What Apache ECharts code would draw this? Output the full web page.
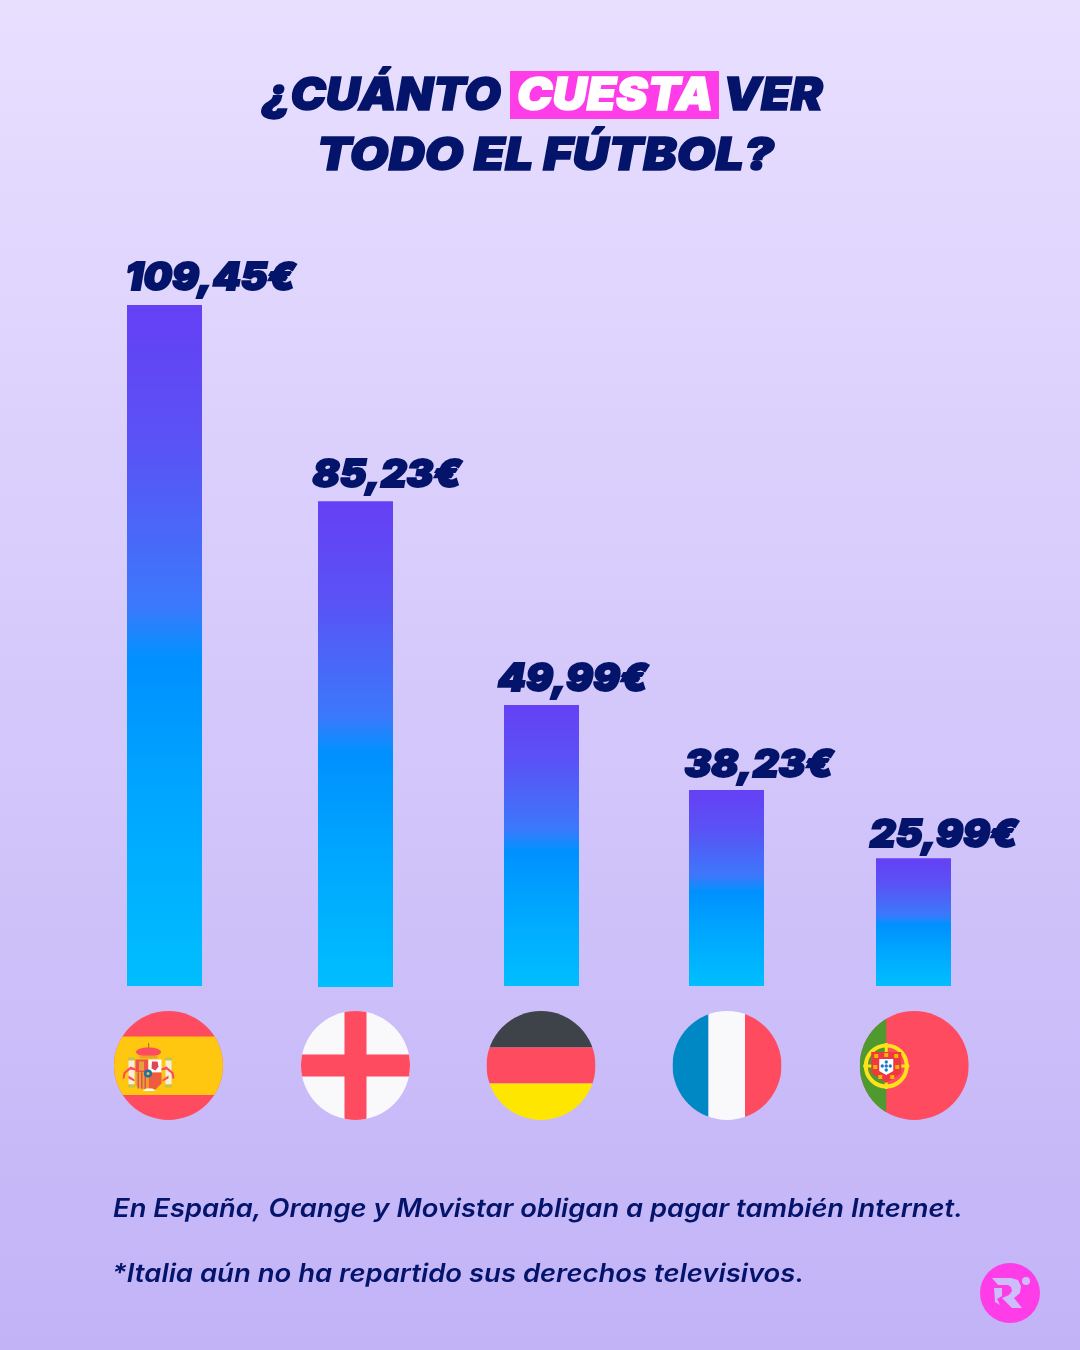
<!DOCTYPE html>
<html><head><meta charset="utf-8">
<style>html,body{margin:0;padding:0;background:#d5c9fb}#c{width:1080px;height:1350px}</style>
<script src="https://cdn.jsdelivr.net/npm/echarts@6/dist/echarts.min.js"></script>
</head><body><div id="c"></div>
<script>
const countries = ['España','Inglaterra','Alemania','Francia','Portugal'];
const priceLabels = ['109,45€','85,23€','49,99€','38,23€','25,99€'];
// Bar lengths as drawn in the source, on the Spain bar's scale: the source's bars are not proportional to their printed prices.
const drawnBarValues = [109.45, 77.9, 45.16, 31.5, 20.52];
const titleLine1 = ['¿CUÁNTO','CUESTA','VER'];
const titleLine2 = 'TODO EL FÚTBOL?';
const notes = ['En España, Orange y Movistar obligan a pagar también Internet.','*Italia aún no ha repartido sus derechos televisivos.'];

const INK='#04146A', RED='#FF4B5F', WHITE='#F9F9FB', YEL='#FFE600';
const barNudge=[0,3.75,2.5,0.25,0], flagNudge=[4,3.75,2,0.75,0.75];
const labelNudge=[46,35.25,34,32.75,30.5], labelLift=[45,45,44,43,42];
const R=54.5;
const FONT='Inter';

const rect=(x,y,w,h,fill)=>({type:'rect',shape:{x,y,width:w,height:h},style:{fill}});
const circ=(cx,cy,r,fill,extra)=>({type:'circle',shape:{cx,cy,r},style:Object.assign({fill},extra||{})});
const poly=(points,fill)=>({type:'polygon',shape:{points},style:{fill}});
function spainCrest(){
  const c=[];
  [-40,-3].forEach(x=>{ c.push(rect(x,-6,6,25,'#F4F0DC')); c.push(rect(x-.5,-8,7,3,'#C9C24A')); c.push(rect(x-.5,19,7,3,'#C9C24A')); });
  c.push({type:'ellipse',shape:{cx:-20,cy:-13.5,rx:12.5,ry:4.5},style:{fill:RED}});
  c.push(rect(-20.5,-22.5,1.2,6,'#B9772C'));
  c.push(rect(-29,-10,18,3,'#E8A32A'));
  c.push(rect(-33,-6,12.5,13,'#F2504F'));
  c.push(rect(-29.5,-4,5,9,'#E2A33A'));
  c.push(rect(-20,-6,13,13,'#FFFFFF'));
  c.push(poly([[-16.5,-4],[-11,-4],[-10,1],[-13,5],[-17,3]],'#E0465A'));
  c.push(poly([[-33,7],[-20.5,7],[-20.5,23],[-27,24],[-33,20]],'#E8A035'));
  [-31,-27.5,-24].forEach(x=>c.push(rect(x,7,1.5,16,'#E2504C')));
  c.push(poly([[-20,7],[-7,7],[-7,18],[-13,24],[-20,23]],'#EE5B3F'));
  c.push(poly([[-22,23],[-16,23],[-13,25.5],[-26,25.5]],'#FFFFFF'));
  c.push(circ(-20.5,8,4,'#1F6F9F'));
  c.push(circ(-20.5,8,1.5,'#E9C04A'));
  c.push(poly([[-45,7],[-38,1],[-33,3],[-33,5],[-38,4],[-43,8],[-44,13],[-46,13]],RED));
  c.push(poly([[5,7],[-2,1],[-7,3],[-7,5],[-2,4],[3,8],[4,13],[6,13]],RED));
  c.push(poly([[-40,10],[-34,14],[-34,16],[-40,13]],RED));
  c.push(poly([[0,10],[-6,14],[-6,16],[0,13]],RED));
  return c;
}
function portugalEmblem(){
  const c=[];
  const ex=-28, ey=0.5;
  c.push(circ(ex,ey,20.5,'rgba(0,0,0,0)',{stroke:'#FFE21A',lineWidth:4}));
  c.push(rect(ex-1.5,ey-23,3,46,'#FFE21A'));
  c.push(rect(ex-23,ey-1.5,46,3,'#FFE21A'));
  c.push(poly([[ex-15,ey-14],[ex+15,ey-14],[ex+15,ey+7],[ex,ey+17],[ex-15,ey+7]],'#F0383F'));
  [[-10,-10],[0,-11],[10,-10],[-11,1],[11,1],[-6,11],[6,11]].forEach(p=>c.push(rect(ex+p[0]-2,ey+p[1]-2,4,4,'#F2B705')));
  c.push(poly([[ex-7,ey-7],[ex+7,ey-7],[ex+7,ey+5],[ex,ey+9],[ex-7,ey+5]],'#FFFFFF'));
  [[0,-4],[-4,0],[0,0],[4,0],[0,4]].forEach(p=>c.push(circ(ex+p[0],ey+p[1],1.7,'#1E78C8')));
  return c;
}
const flagParts=[
  ()=>[rect(-R,-R,2*R,2*R,RED),rect(-R,-29,2*R,58.5,'#FFC70F')].concat(spainCrest()),
  ()=>[rect(-R,-R,2*R,2*R,WHITE),rect(-11,-R,22,2*R,RED),rect(-R,-11,2*R,22,RED)],
  ()=>[rect(-R,-R,2*R,R-18,'#3E4249'),rect(-R,-18,2*R,36,RED),rect(-R,18,2*R,R-18,YEL)],
  ()=>[rect(-R,-R,R-18.5,2*R,'#0088C4'),rect(-18.5,-R,36.5,2*R,WHITE),rect(18,-R,R-18,2*R,RED)],
  ()=>[rect(-R,-R,2*R,2*R,RED),rect(-R,-R,R-28,2*R,'#4F9A2F')].concat(portugalEmblem())
];
const barGrad=new echarts.graphic.LinearGradient(0,0,0,1,[
  {offset:0,color:'#6540F5'},{offset:.2,color:'#5A52F5'},{offset:.44,color:'#3C78FB'},
  {offset:.5,color:'#0F8CFE'},{offset:.52,color:'#0090FF'},{offset:.72,color:'#00A6FF'},{offset:1,color:'#00BEFF'}]);

const chart=echarts.init(document.getElementById('c'),null,{renderer:'canvas',width:1080,height:1350});
const txt=(x,y,text,fontSize,fill,weight,sx,extra)=>({type:'text',x,y,scaleX:sx,z:5,style:Object.assign({text,fontFamily:FONT,fontSize,fontWeight:weight,fontStyle:'italic',fill},extra||{})});
const heavy={stroke:INK,lineWidth:1.5};
chart.setOption({
  animation:false,
  backgroundColor:new echarts.graphic.LinearGradient(0,0,0,1,[{offset:0,color:'#E8DFFF'},{offset:1,color:'#C2B3F7'}]),
  grid:{left:70.875,width:936.25,top:305,height:681,containLabel:false},
  xAxis:{type:'category',data:countries,show:false},
  yAxis:{type:'value',min:0,max:109.45,show:false},
  graphic:[
    {type:'rect',shape:{x:510,y:71,width:209,height:48},style:{fill:'#FF3DE8'},z:4},
    txt(262,73,titleLine1[0],46,INK,900,1.03,heavy),
    txt(517,73,titleLine1[1],46,'#FFFFFF',900,1.03,{stroke:'#FFFFFF',lineWidth:1.5}),
    txt(723,73,titleLine1[2],46,INK,900,1.04,heavy),
    txt(317,133,titleLine2,46,INK,900,1.09,heavy),
    txt(113,1197,notes[0],25,INK,600,1.093),
    txt(112,1262,notes[1],25,INK,600,1.099),
    {type:'circle',shape:{cx:1010,cy:1293,r:30},style:{fill:'#FF3DE8'}},
    {type:'circle',shape:{cx:1026,cy:1281,r:4},style:{fill:'#CDBDFA'}},
    {type:'polygon',shape:{points:[[992,1278],[1011,1278],[1018,1280],[1021,1286],[1020,1293],[1014,1298],[1022,1308],[1012,1308],[1002,1298],[1009,1295],[1012,1291],[1011,1287],[1008,1285],[998,1285]]},style:{fill:'#CDBDFA'}},
    {type:'polygon',shape:{points:[[994,1288],[1002,1288],[1002,1296],[997,1299],[1000,1305],[995,1302]]},style:{fill:'#CDBDFA'}}
  ],
  series:[
    {type:'custom',name:'Precio',coordinateSystem:'cartesian2d',clip:false,
      data:drawnBarValues.map((v,i)=>[i,v]),encode:{x:0,y:1},
      renderItem(params,api){
        const i=api.value(0);
        const top=api.coord([i,api.value(1)]), base=api.coord([i,0]);
        const cx=top[0]+barNudge[i];
        return {type:'group',children:[
          {type:'rect',shape:{x:cx-37.5,y:top[1],width:75,height:base[1]-top[1]+(i===1?1:0)},style:{fill:barGrad}},
          {type:'text',x:top[0]+labelNudge[i],y:top[1]-labelLift[i],scaleX:1.055,style:{text:priceLabels[i],fontFamily:FONT,fontSize:38,fontWeight:900,fontStyle:'italic',fill:INK,stroke:INK,lineWidth:2,textAlign:'center'}}
        ]};
      }},
    {type:'custom',name:'Banderas',coordinateSystem:'cartesian2d',clip:false,
      data:countries.map((c,i)=>[i,0]),encode:{x:0,y:1},
      renderItem(params,api){
        const i=api.value(0), base=api.coord([i,0]);
        return {type:'group',x:base[0]+flagNudge[i],y:base[1]+79.5,
          clipPath:{type:'circle',shape:{cx:0,cy:0,r:R}},
          children:flagParts[i]()};
      }}
  ]
});
</script></body></html>
